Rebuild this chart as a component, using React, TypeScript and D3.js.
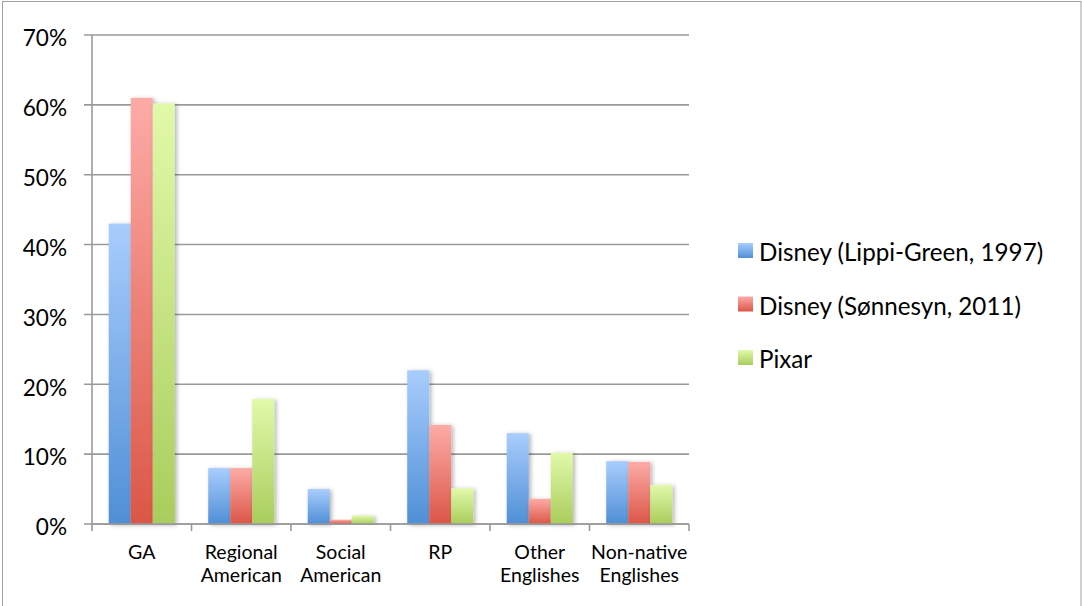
import React from "react";
import * as d3 from "d3";

// Share of characters by accent group, per study
const categories = ["GA", "Regional American", "Social American", "RP", "Other Englishes", "Non-native Englishes"];
const categoryLines = [["GA"], ["Regional", "American"], ["Social", "American"], ["RP"], ["Other", "Englishes"], ["Non-native", "Englishes"]];
const seriesNames = ["Disney (Lippi-Green, 1997)", "Disney (Sønnesyn, 2011)", "Pixar"];
const lippiGreen = [43, 8, 5, 22, 13, 9];
const sonnesyn = [61, 8, 0.6, 14.2, 3.6, 8.9];
const pixar = [60.2, 17.9, 1.2, 5.1, 10.2, 5.6];
const yTicks = [0, 10, 20, 30, 40, 50, 60, 70];

const seriesValues = [lippiGreen, sonnesyn, pixar];
const gradients = [
  { top: "#a9cdfd", bottom: "#4f8fd6" },
  { top: "#fdaba7", bottom: "#db5647" },
  { top: "#e1f9aa", bottom: "#a9cd5c" },
];

const W = 1082;
const H = 606;
const plot = { left: 92, right: 689, top: 35, bottom: 524 };
const font = "Lato, 'Open Sans', sans-serif";

export default function App() {
  const x = d3.scaleBand<string>().domain(categories).range([plot.left, plot.right]).paddingInner(0).paddingOuter(0);
  const x1 = d3
    .scaleBand<number>()
    .domain([0, 1, 2])
    .range([0, x.bandwidth()])
    .paddingInner(0)
    .paddingOuter(0.76);
  const y = d3.scaleLinear().domain([0, 70]).range([plot.bottom, plot.top]);
  const catTicks = categories.map((c) => x(c)!).concat([plot.right]);

  return (
    <svg width={W} height={H} style={{ position: "absolute", left: 0, top: 0, background: "#fff" }}>
      <defs>
        {gradients.map((g, i) => (
          <linearGradient key={i} id={`grad${i}`} x1="0" y1="0" x2="0" y2="1">
            <stop offset="0%" stopColor={g.top} />
            <stop offset="100%" stopColor={g.bottom} />
          </linearGradient>
        ))}
        <filter id="shadow" x="-30%" y="-10%" width="160%" height="120%">
          <feDropShadow dx="2" dy="1" stdDeviation="2" floodColor="#000" floodOpacity="0.3" />
        </filter>
      </defs>
      <rect x={2.5} y={1.5} width={1078.5} height={610} fill="#fff" stroke="#a0a0a0" strokeWidth={1} />

      {/* gridlines and y axis */}
      {yTicks.map((t) => (
        <g key={t}>
          <line x1={plot.left - 8} x2={plot.right} y1={y(t)} y2={y(t)} stroke="#9a9a9a" strokeWidth={1.6} />
          <text x={67} y={y(t)} dy="0.5em" textAnchor="end" fontFamily={font} fontSize={22.6} fill="#000">
            {t}%
          </text>
        </g>
      ))}
      <line x1={plot.left} x2={plot.left} y1={plot.top} y2={plot.bottom} stroke="#9a9a9a" strokeWidth={1.6} />

      {/* bars */}
      {categories.map((c, ci) => (
        <g key={c} transform={`translate(${x(c)},0)`}>
          {seriesValues.map((vals, si) => (
            <rect
              key={si}
              x={x1(si)}
              y={y(vals[ci])}
              width={x1.bandwidth()}
              height={plot.bottom - y(vals[ci])}
              fill={`url(#grad${si})`}
              filter="url(#shadow)"
            />
          ))}
        </g>
      ))}

      {/* x axis */}
      <line x1={plot.left} x2={plot.right} y1={plot.bottom} y2={plot.bottom} stroke="#9a9a9a" strokeWidth={1.6} />
      {catTicks.map((tx, i) => (
        <line key={i} x1={tx} x2={tx} y1={plot.bottom} y2={plot.bottom + 7} stroke="#9a9a9a" strokeWidth={1.6} />
      ))}
      {categories.map((c, ci) => (
        <text key={c} textAnchor="middle" fontFamily={font} fontSize={19.5} fill="#000">
          {categoryLines[ci].map((line, li) => (
            <tspan key={li} x={x(c)! + x.bandwidth() / 2} y={559 + li * 23}>
              {line}
            </tspan>
          ))}
        </text>
      ))}

      {/* legend */}
      {seriesNames.map((name, i) => (
        <g key={name} transform={`translate(738,${261 + i * 53.5})`}>
          <rect x={0} y={-18} width={15} height={15} fill={`url(#grad${i})`} />
          <text x={21} y={0} fontFamily={font} fontSize={24.2} fill="#000">
            {name}
          </text>
        </g>
      ))}
    </svg>
  );
}
